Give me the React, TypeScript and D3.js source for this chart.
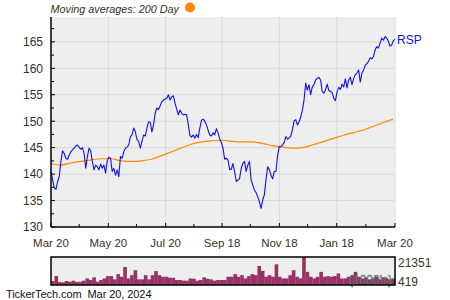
import React from "react";
import * as d3 from "d3";

const W = 450;
const H = 300;

const startDate = new Date(2023, 2, 20);
const endDate = new Date(2024, 2, 20);

const majorTickDates = [
  new Date(2023, 2, 20), new Date(2023, 4, 20), new Date(2023, 6, 20),
  new Date(2023, 8, 18), new Date(2023, 10, 18), new Date(2024, 0, 18), new Date(2024, 2, 20),
];
const majorTickLabels = ["Mar 20", "May 20", "Jul 20", "Sep 18", "Nov 18", "Jan 18", "Mar 20"];
const minorTickDates = [
  new Date(2023, 3, 19), new Date(2023, 5, 19), new Date(2023, 7, 19),
  new Date(2023, 9, 18), new Date(2023, 11, 18), new Date(2024, 1, 18),
];

const yTicks = [130, 135, 140, 145, 150, 155, 160, 165];
const yMinorTicks = [132.5, 137.5, 142.5, 147.5, 152.5, 157.5, 162.5, 167.5];

const rspPrices = [
  140.5, 138.9, 137.4, 137.1, 138.6, 139.6, 142.4, 144.4, 143.9, 143.0,
  142.8, 143.6, 144.2, 144.6, 144.9, 145.3, 145.5, 145.1, 144.7, 145.0,
  143.9, 141.1, 143.3, 144.9, 144.4, 142.4, 140.8, 141.7, 141.4, 140.8,
  141.9, 141.1, 141.7, 140.2, 142.5, 143.2, 143.0, 140.5, 141.1, 139.8,
  140.8, 139.5, 143.3, 143.0, 144.2, 144.9, 145.1, 145.5, 147.1, 147.4,
  148.7, 148.0, 146.5, 146.2, 144.9, 146.2, 147.4, 147.2, 148.7, 149.9,
  149.8, 148.0, 149.3, 151.5, 152.5, 152.2, 152.9, 153.7, 154.0, 154.2,
  154.3, 155.0, 154.0, 154.6, 154.8, 153.4, 152.3, 151.2, 152.1, 151.5,
  151.2, 151.3, 151.2, 149.4, 147.3, 147.0, 147.4, 146.8, 147.5, 146.9,
  148.7, 150.2, 150.4, 150.0, 149.3, 148.3, 147.4, 147.2, 147.8, 147.4,
  148.6, 147.8, 146.7, 146.0, 144.9, 142.8, 143.0, 142.7, 140.9, 140.9,
  142.0, 140.5, 138.6, 138.9, 139.1, 141.1, 142.0, 142.4, 140.5, 141.7,
  142.4, 138.9, 137.9, 137.0, 136.5, 135.7, 134.8, 133.5, 135.1, 136.1,
  138.9, 141.4, 140.9, 139.8, 139.1, 140.5, 140.5, 143.5, 145.2, 145.2,
  145.5, 146.0, 147.1, 146.6, 146.8, 147.2, 148.4, 150.1, 150.3, 149.3,
  149.9, 150.8, 152.1, 154.0, 157.2, 155.9, 156.9, 155.0, 156.5, 156.9,
  157.8, 158.1, 158.3, 157.8, 155.6, 155.3, 155.9, 157.0, 155.8, 155.6,
  155.4, 154.3, 153.9, 155.6, 156.4, 156.0, 157.0, 156.5, 158.0, 156.3,
  157.8, 158.3, 156.9, 158.1, 158.8, 159.1, 159.7, 157.4, 159.1, 159.7,
  160.6, 160.9, 161.3, 162.0, 161.8, 162.2, 163.5, 164.1, 163.8, 164.8,
  165.7, 165.3, 166.0, 165.7, 165.1, 164.2, 164.4, 165.2, 165.5,
];

const ma200 = [
  142.0, 141.7, 142.1, 142.4, 142.7, 142.9, 142.9, 142.5, 142.4, 142.5,
  142.8, 143.5, 144.2, 145.0, 145.7, 146.1, 146.3, 146.4, 146.2, 146.1,
  146.1, 145.8, 145.4, 145.1, 144.9, 145.0, 145.5, 146.1, 146.7, 147.3,
  147.8, 148.3, 149.0, 149.7, 150.4,
];

const volumes = [
  3000, 6800, 2300, 2000, 3000, 2500, 3300, 2300, 2500, 3300,
  5000, 3800, 5800, 2500, 3800, 5000, 6800, 6800, 4300, 8300,
  6300, 13800, 5000, 7500, 11300, 4300, 4300, 7500, 4300, 7500,
  10600, 7500, 6300, 6300, 5500, 5500, 3800, 3800, 3300, 3300,
  5000, 4800, 3300, 3800, 5800, 4800, 4300, 3300, 3800, 3800,
  3800, 6300, 6300, 8300, 6300, 7500, 5000, 6800, 8300, 7500,
  14500, 10800, 6300, 7500, 6300, 15800, 6300, 5000, 5000, 7500,
  11300, 6300, 5000, 21351, 10000, 6300, 5000, 6300, 10000, 6300,
  6800, 6300, 6800, 8800, 5000, 5000, 6300, 7500, 10000, 6300,
  5000, 5800, 4300, 5000, 6300, 4300, 5800, 5000, 4300, 5000,
];
const volMaxLabel = "21351";
const volMinLabel = "419";

const L = 51;
const R = 395;
const T = 17;
const B = 227;
const VT = 257;
const VB = 285;

const textColor = "#3b3020";
const font = "'Liberation Sans', Arial, sans-serif";

export default function App() {
  const x = d3.scaleTime().domain([startDate, endDate]).range([L, R]);
  const xi = d3.scaleLinear().domain([0, rspPrices.length - 1]).range([L, R]);
  const xm = d3.scaleLinear().domain([0, ma200.length - 1]).range([L, R - 2]);
  const y = d3.scaleLinear().domain([130, 169.7]).range([B, T]);
  const xb = d3.scaleBand<number>().domain(d3.range(volumes.length)).range([L, R]).padding(0);
  const yv = d3.scaleLinear().domain([0, d3.max(volumes) as number]).range([VB, VT]);

  const priceLine = d3.line<number>().x((_, i) => xi(i)).y((d) => y(d));
  const maLine = d3.line<number>().x((_, i) => xm(i)).y((d) => y(d)).curve(d3.curveMonotoneX);

  return (
    <svg width={W} height={H} style={{ position: "absolute", left: 0, top: 0, background: "#fff" }} fontFamily={font}>
      {/* title */}
      <text x={50.5} y={13} fontSize={11} fontStyle="italic" fill={textColor} textLength={128.5} lengthAdjust="spacingAndGlyphs">Moving averages: 200 Day</text>
      <circle cx={190} cy={7.5} r={5} fill="#ff8800" />

      {/* plot background */}
      <rect x={L} y={T} width={R - L} height={B - T} fill="#eeeeee" />
      {yTicks.slice(1).map((t) => (
        <line key={"gy" + t} x1={L} x2={R} y1={y(t)} y2={y(t)} stroke="#d9d9d9" strokeWidth={1} />
      ))}
      {majorTickDates.slice(1).map((d, i) => (
        <line key={"gx" + i} x1={x(d)} x2={x(d)} y1={T} y2={B} stroke="#d9d9d9" strokeWidth={1} />
      ))}

      {/* lines */}
      <path d={maLine(ma200) || ""} fill="none" stroke="#ff8800" strokeWidth={1.2} />
      <path d={priceLine(rspPrices) || ""} fill="none" stroke="#1010ee" strokeWidth={1.1} strokeLinejoin="round" />
      <text x={397} y={44} fontSize={12} fill="#1010ee">RSP</text>

      {/* axes */}
      <line x1={L} x2={L} y1={T} y2={B} stroke="#000" strokeWidth={1.5} />
      <line x1={L} x2={R} y1={B} y2={B} stroke="#000" strokeWidth={1.5} />
      {yTicks.map((t) => (
        <g key={"yt" + t}>
          <line x1={L} x2={L + 4} y1={y(t)} y2={y(t)} stroke="#000" strokeWidth={1} />
          <text x={43} y={y(t)} dy="0.36em" textAnchor="end" fontSize={12} fill={textColor}>{t}</text>
        </g>
      ))}
      {yMinorTicks.map((t) => (
        <line key={"ym" + t} x1={L} x2={L + 3} y1={y(t)} y2={y(t)} stroke="#000" strokeWidth={1} />
      ))}
      {majorTickDates.map((d, i) => (
        <g key={"xt" + i}>
          <line x1={x(d)} x2={x(d)} y1={B} y2={B - 4} stroke="#000" strokeWidth={1} />
          <text x={x(d)} y={247} textAnchor="middle" fontSize={11.5} fill={textColor}>{majorTickLabels[i]}</text>
        </g>
      ))}
      {minorTickDates.map((d, i) => (
        <line key={"xm" + i} x1={x(d)} x2={x(d)} y1={B} y2={B - 3} stroke="#000" strokeWidth={1} />
      ))}

      {/* volume panel */}
      <rect x={L} y={VT} width={R - L} height={VB - VT} fill="#eeeeee" />
      {volumes.map((v, i) => (
        <rect key={"v" + i} x={xb(i)} width={xb.bandwidth() + 0.2} y={yv(v)} height={VB - yv(v)} fill="#993366" />
      ))}
      <text x={392} y={284} textAnchor="end" fontSize={12} fill="#6f9a88" stroke="#2f5a48" strokeWidth={0.4} opacity={0.85}>(1000's)</text>
      <rect x={L} y={VT} width={R - L} height={VB - VT} fill="none" stroke="#000" strokeWidth={1.5} />
      <text x={398} y={263} dy="0.36em" fontSize={12} fill={textColor}>{volMaxLabel}</text>
      <text x={398} y={282} dy="0.36em" fontSize={12} fill={textColor}>{volMinLabel}</text>

      {/* footer */}
      <text x={6} y={298} fontSize={11} fill="#111" textLength={145.5} lengthAdjust="spacing" style={{ whiteSpace: "pre" }}>TickerTech.com  Mar 20, 2024</text>
    </svg>
  );
}
